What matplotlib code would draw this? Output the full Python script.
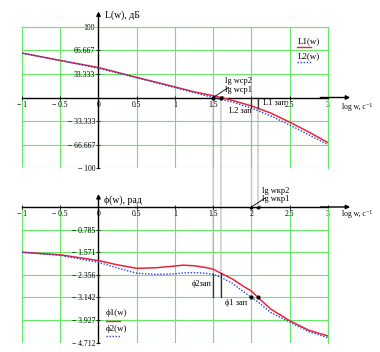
import numpy as np
import matplotlib
matplotlib.use("Agg")
import matplotlib.pyplot as plt
from matplotlib.patches import ConnectionPatch

# ---- data ----
lgw = [-1.0, -0.5, 0.0, 0.5, 1.0, 1.25, 1.5, 1.6, 1.75, 2.0, 2.25, 2.5, 2.75, 3.0]
L1 = [63, 52.5, 42.5, 28.5, 15, 8, 2.5, 0, -4, -12, -22, -35, -49, -64]
L2 = [63, 52.5, 41.5, 28, 14, 7, 0, -2.5, -6.5, -15, -26, -39, -53, -67]

lgw_ph = [-1.0, -0.5, 0.0, 0.25, 0.5, 0.75, 1.0, 1.1, 1.25, 1.4, 1.5, 1.6, 1.75,
          1.875, 2.0, 2.085, 2.25, 2.5, 2.75, 3.0]
phi1 = [-1.571, -1.66, -1.86, -2.01, -2.13, -2.11, -2.05, -2.02, -2.04, -2.10,
        -2.16, -2.30, -2.50, -2.72, -2.92, -3.142, -3.54, -3.95, -4.28, -4.48]
phi2 = [-1.571, -1.68, -1.92, -2.12, -2.30, -2.34, -2.32, -2.29, -2.28, -2.30,
        -2.34, -2.44, -2.65, -2.90, -3.142, -3.30, -3.66, -4.00, -4.33, -4.54]

lg_wcp1, lg_wcp2 = 1.6, 1.5
lg_wkp1, lg_wkp2 = 2.085, 2.0

xticks = [-1, -0.5, 0, 0.5, 1, 1.5, 2, 2.5, 3]
xticklabels_top = ["\u2212 1", "\u2212 0.5", "0", "0.5", "1", "1.5", "", "2.5", "3"]
xticklabels_bot = ["\u2212 1", "\u2212 0.5", "0", "0.5", "1", "1.5", "2", "2.5", "3"]
L_ticks = [-100, -66.667, -33.333, 33.333, 66.667, 100]
L_ticklabels = ["\u2212 100", "\u2212 66.667", "\u2212 33.333", "33.333", "66.667", "100"]
phi_ticks = [-0.785, -1.571, -2.356, -3.142, -3.927, -4.712]
phi_ticklabels = ["\u2212 0.785", "\u2212 1.571", "\u2212 2.356", "\u2212 3.142", "\u2212 3.927", "\u2212 4.712"]

RED = "#e8253a"
BLUE = "#2f3fd0"
GREEN = "#66e866"
GRAY = "#c4c4c4"
FAM = ["Liberation Serif", "DejaVu Serif"]
plt.rcParams["font.family"] = FAM

fig = plt.figure(figsize=(3.8, 3.52), dpi=100)
ax1 = fig.add_axes([22/380, 1-168/352, 306/380, 141/352])
ax2 = fig.add_axes([22/380, 1-342.7/352, 306/380, 135.7/352])


def style(ax, ylim, xticklabels, yticks, yticklabels):
    ax.set_xlim(-1, 3)
    ax.set_ylim(*ylim)
    ax.patch.set_visible(False)
    ax.spines["left"].set_position(("data", 0))
    ax.spines["bottom"].set_position(("data", 0))
    for s in ("left", "bottom"):
        ax.spines[s].set_color("black")
        ax.spines[s].set_linewidth(1.0)
    for s in ("top", "right"):
        ax.spines[s].set_color(GREEN)
        ax.spines[s].set_linewidth(0.8)
    ax.set_xticks(xticks)
    ax.set_xticklabels(xticklabels, fontsize=5.5)
    ax.set_yticks(yticks)
    ax.set_yticklabels(yticklabels, fontsize=5.5)
    ax.tick_params(direction="inout", length=3, width=0.6, pad=1)
    for x in xticks:
        if x != 0:
            ax.axvline(x, color=GREEN, lw=0.8, zorder=0)
    for y in yticks:
        ax.axhline(y, color=GREEN, lw=0.8, zorder=0)


style(ax1, (-100, 100), xticklabels_top, L_ticks, L_ticklabels)
style(ax2, (-4.712, 0), xticklabels_bot, phi_ticks, phi_ticklabels)
ax2.spines["top"].set_visible(False)

# axis arrows
arr = dict(arrowstyle="-|>", lw=1.0, color="black", mutation_scale=6, shrinkA=0, shrinkB=0)
ax1.annotate("", xy=(3.29, 0), xytext=(2.9, 0), arrowprops=arr, annotation_clip=False)
ax1.annotate("", xy=(0, 122), xytext=(0, 99), arrowprops=arr, annotation_clip=False)
ax2.annotate("", xy=(3.29, 0), xytext=(2.9, 0), arrowprops=arr, annotation_clip=False)
ax2.annotate("", xy=(0, 0.45), xytext=(0, -0.02), arrowprops=arr, annotation_clip=False)

# curves
ax1.plot(lgw, L1, color=RED, lw=1.1, zorder=3)
ax1.plot(lgw, L2, color=BLUE, lw=1.0, ls=(0, (1, 1.2)), zorder=3)
ax2.plot(lgw_ph, phi1, color=RED, lw=1.1, zorder=3)
ax2.plot(lgw_ph, phi2, color=BLUE, lw=1.0, ls=(0, (1, 1.2)), zorder=3)

# gray connecting lines
for x in (lg_wcp2, lg_wcp1):
    cp = ConnectionPatch((x, 0), (x, -np.pi), "data", "data", axesA=ax1, axesB=ax2,
                         color=GRAY, lw=1.0, zorder=-1)
    fig.add_artist(cp)
for x in (lg_wkp2, lg_wkp1):
    cp = ConnectionPatch((x, 0), (x, 0), "data", "data", axesA=ax1, axesB=ax2,
                         color=GRAY, lw=1.0, zorder=-1)
    fig.add_artist(cp)

# margins in top plot
L2_k = np.interp(lg_wkp2, lgw, L2)
L1_k = np.interp(lg_wkp1, lgw, L1)
ax1.plot([lg_wkp2, lg_wkp2], [L2_k, 0], color="#333333", lw=0.9, zorder=4)
ax1.plot([lg_wkp1, lg_wkp1], [L1_k, 0], color="#333333", lw=0.9, zorder=4)
ax1.plot([lg_wcp2, lg_wcp1], [0, 0], "o", color="black", ms=2, zorder=5)

# margins in bottom plot
p2 = np.interp(lg_wcp2, lgw_ph, phi2)
p1 = np.interp(lg_wcp1, lgw_ph, phi1)
ax2.plot([lg_wcp2, lg_wcp2], [p2, -np.pi], color="#333333", lw=0.9, zorder=4)
ax2.plot([lg_wcp1, lg_wcp1], [p1, -np.pi], color="#333333", lw=0.9, zorder=4)
ax2.plot([lg_wkp2, lg_wkp1], [-np.pi, -np.pi], "o", color="black", ms=2, zorder=5)
ax2.plot([lg_wkp2, lg_wkp1], [0, 0], "o", color="black", ms=2, zorder=5)

ln = dict(arrowstyle="-", lw=0.6, color="black", shrinkA=0, shrinkB=0)
fs = 6
# top annotations
ax1.annotate("lg w\u0441\u04402", xy=(lg_wcp2, 0), xytext=(1.66, 24), fontsize=fs,
             va="center", ha="left", arrowprops=ln)
ax1.annotate("lg w\u0441\u04401", xy=(lg_wcp1, 0), xytext=(1.66, 11), fontsize=fs,
             va="center", ha="left", arrowprops=ln)
ax1.text(1.70, -18.5, "L2 \u0437\u0430\u043f", fontsize=fs, va="center", ha="left")
ax1.text(2.15, -7.6, "L1 \u0437\u0430\u043f", fontsize=fs, va="center", ha="left")
ax1.text(0.09, 117, "L(w), \u0434\u0411", fontsize=7, va="center", ha="left")
ax1.text(3.18, -14, "log w, c\u207b\u00b9", fontsize=5.5, va="center", ha="left")

# top legend
ax1.text(2.6, 80, "L1(w)", fontsize=6.5, va="center", ha="left")
ax1.plot([2.6, 2.78], [71, 71], color=RED, lw=1.0)
ax1.text(2.6, 59, "L2(w)", fontsize=6.5, va="center", ha="left")
ax1.plot([2.6, 2.78], [50, 50], color=BLUE, lw=1.0, ls=(0, (1, 1.2)))

# bottom annotations
ax2.annotate("lg w\u043a\u04402", xy=(lg_wkp2, 0), xytext=(2.14, 0.56), fontsize=fs,
             va="center", ha="left", arrowprops=ln, annotation_clip=False)
ax2.annotate("lg w\u043a\u04401", xy=(lg_wkp1, 0), xytext=(2.14, 0.27), fontsize=fs,
             va="center", ha="left", arrowprops=ln, annotation_clip=False)
ax2.text(1.48, -2.67, "\u03d52\u0437\u0430\u043f", fontsize=fs, va="center", ha="right")
ax2.text(1.66, -3.33, "\u03d51 \u0437\u0430\u043f", fontsize=fs, va="center", ha="left")
ax2.text(0.07, 0.25, "\u03d5(w), \u0440\u0430\u0434", fontsize=7, va="center", ha="left")
ax2.text(3.18, -0.24, "log w, c\u207b\u00b9", fontsize=5.5, va="center", ha="left")

# bottom legend
ax2.text(0.10, -3.69, "\u03d51(w)", fontsize=6.5, va="center", ha="left")
ax2.plot([0.10, 0.28], [-3.95, -3.95], color=RED, lw=1.0)
ax2.text(0.10, -4.24, "\u03d52(w)", fontsize=6.5, va="center", ha="left")
ax2.plot([0.10, 0.28], [-4.48, -4.48], color=BLUE, lw=1.0, ls=(0, (1, 1.2)))

fig.savefig("out.png", dpi=100)
